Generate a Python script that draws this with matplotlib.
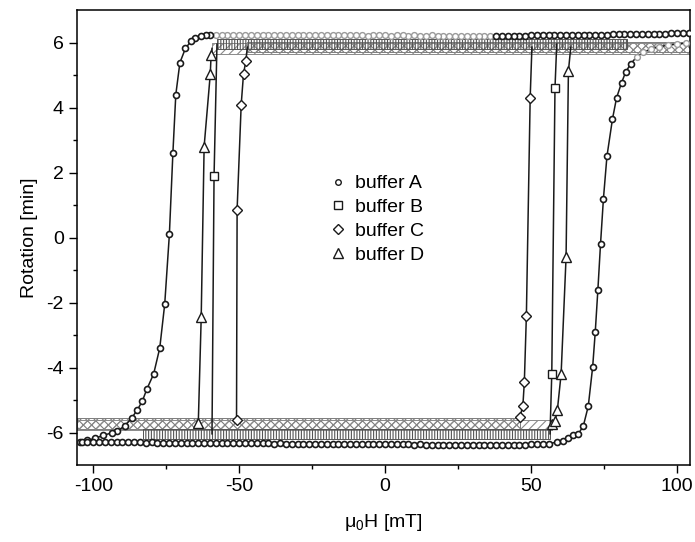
import matplotlib.pyplot as plt
from matplotlib.lines import Line2D

plt.rcParams['font.family'] = ['Liberation Sans', 'DejaVu Sans']
plt.rcParams['axes.unicode_minus'] = False
plt.rcParams['mathtext.fontset'] = 'custom'
plt.rcParams['mathtext.rm'] = 'Liberation Sans'
plt.rcParams['mathtext.it'] = 'Liberation Sans:italic'
plt.rcParams['hatch.linewidth'] = 0.8

#---------------------------------datos---------------------------------------------------------
# buffer A: rama descendente (de +H a -H)
a_top_x = [104, 102, 100, 98, 96, 94, 92, 90, 88, 86, 84, 82, 80, 78, 76, 74, 72,
           70, 68, 66, 64, 62, 60, 58, 56, 54, 52, 50, 48, 46, 44, 42, 40, 38]
a_top_y = [6.29, 6.29, 6.28, 6.28, 6.27, 6.27, 6.27, 6.26, 6.26, 6.26, 6.25, 6.25,
           6.25, 6.25, 6.24, 6.24, 6.24, 6.24, 6.23, 6.23, 6.23, 6.23, 6.23, 6.22,
           6.22, 6.22, 6.22, 6.22, 6.21, 6.21, 6.21, 6.21, 6.20, 6.20]
a_grey_x = [36, 34, 32, 30, 28, 26, 24, 22, 20, 18, 16, 14, 12, 10, 8, 6, 4, 2, 0,
            -2, -4, -6, -8, -10, -12, -14, -16, -18, -20, -22, -24, -26, -28, -30,
            -32, -34, -36, -38, -40, -42, -44, -46, -48, -50, -52, -54, -56, -58]
a_grey_y = [6.20, 6.20, 6.21, 6.20, 6.21, 6.21, 6.20, 6.21, 6.21, 6.21, 6.22, 6.21,
            6.21, 6.22, 6.21, 6.22, 6.22, 6.21, 6.22, 6.22, 6.22, 6.21, 6.22, 6.22,
            6.22, 6.22, 6.22, 6.23, 6.22, 6.22, 6.22, 6.23, 6.22, 6.22, 6.23, 6.22,
            6.22, 6.23, 6.22, 6.22, 6.22, 6.23, 6.22, 6.22, 6.22, 6.22, 6.22, 6.22]
a_fall_x = [-59.9, -61.3, -63.1, -65.1, -66.5, -68.4, -70.3, -71.7, -72.7, -73.9,
            -75.5, -77.2, -79.3, -81.6, -83.2, -85.0, -86.8, -89.2, -91.9, -93.6,
            -96.7, -99.3, -102.2, -104.6]
a_fall_y = [6.22, 6.22, 6.19, 6.15, 6.04, 5.82, 5.38, 4.40, 2.60, 0.10, -2.05, -3.40,
            -4.20, -4.66, -5.04, -5.32, -5.55, -5.80, -5.96, -6.01, -6.09, -6.18,
            -6.24, -6.28]
# buffer A: rama ascendente (de -H a +H)
a_bot_x = [-104, -102, -100, -98, -96, -94, -92, -90, -88, -86, -84, -82, -80, -78,
           -76, -74, -72, -70, -68, -66, -64, -62, -60, -58, -56, -54, -52, -50,
           -48, -46, -44, -42, -40, -38, -36, -34, -32, -30, -28, -26, -24, -22,
           -20, -18, -16, -14, -12, -10, -8, -6, -4, -2, 0, 2, 4, 6, 8, 10, 12, 14,
           16, 18, 20, 22, 24, 26, 28, 30, 32, 34, 36, 38, 40, 42, 44, 46, 48, 50,
           52, 54, 56]
a_bot_y = [-6.29, -6.29, -6.29, -6.29, -6.30, -6.29, -6.30, -6.30, -6.30, -6.30,
           -6.30, -6.31, -6.30, -6.31, -6.31, -6.31, -6.31, -6.31, -6.32, -6.31,
           -6.32, -6.32, -6.32, -6.32, -6.32, -6.33, -6.32, -6.33, -6.33, -6.33,
           -6.33, -6.33, -6.33, -6.34, -6.33, -6.34, -6.34, -6.34, -6.34, -6.34,
           -6.34, -6.35, -6.34, -6.35, -6.35, -6.35, -6.35, -6.35, -6.35, -6.36,
           -6.35, -6.36, -6.36, -6.36, -6.36, -6.36, -6.36, -6.37, -6.36, -6.37,
           -6.37, -6.37, -6.37, -6.37, -6.37, -6.37, -6.38, -6.37, -6.38, -6.38,
           -6.38, -6.38, -6.38, -6.38, -6.38, -6.37, -6.37, -6.36, -6.36, -6.35,
           -6.34]
a_rise_x = [58.8, 61.1, 62.8, 64.5, 66.2, 67.9, 69.6, 71.1, 72.0, 72.9, 73.8, 74.8,
            76.0, 77.9, 79.3, 81.0, 82.4, 84.2]
a_rise_y = [-6.30, -6.25, -6.16, -6.09, -6.04, -5.80, -5.19, -3.99, -2.90, -1.60,
            -0.20, 1.20, 2.50, 3.65, 4.30, 4.76, 5.09, 5.35]
a_end_x = [86.2, 88.5, 91.0, 94.0, 97.0, 100.0, 103.0]
a_end_y = [5.56, 5.70, 5.80, 5.87, 5.92, 5.95, 5.98]

# buffer B, C, D: mesetas (puntos muy densos) y puntos de la transicion
b_top_x = [-57.6, 83.0]
b_top_y = [5.95, 5.95]
b_bot_x = [-83.0, 56.5]
b_bot_y = [-6.04, -6.04]
b_down_x = [-57.6, -58.6, -59.3]
b_down_y = [5.95, 1.88, -6.04]
b_up_x = [56.5, 57.1, 58.2, 58.8]
b_up_y = [-6.04, -4.19, 4.60, 5.95]

c_top_x = [-47.2, 104.5]
c_top_y = [5.86, 5.86]
c_bot_x = [-105.5, 46.2]
c_bot_y = [-5.72, -5.72]
c_down_x = [-47.2, -47.7, -48.5, -49.3, -50.7, -50.9]
c_down_y = [5.86, 5.43, 5.04, 4.09, 0.86, -5.62]
c_up_x = [46.2, 47.2, 47.7, 48.4, 49.7, 50.3]
c_up_y = [-5.52, -5.17, -4.45, -2.40, 4.30, 5.86]

d_top_x = [-59.3, 104.5]
d_top_y = [5.82, 5.82]
d_bot_x = [-105.5, 57.1]
d_bot_y = [-5.76, -5.76]
d_down_x = [-59.3, -59.6, -59.9, -62.0, -63.0, -64.0]
d_down_y = [5.82, 5.63, 5.02, 2.80, -2.46, -5.72]
d_up_x = [57.1, 58.2, 59.0, 60.3, 62.0, 62.8, 63.6]
d_up_y = [-5.73, -5.65, -5.32, -4.20, -0.60, 5.12, 5.85]

etiquetas = ['buffer A', 'buffer B', 'buffer C', 'buffer D']

#---------------------------------grafico-------------------------------------
fig = plt.figure(figsize=(6.95, 5.42), dpi=100)
ax = fig.add_axes([0.111, 0.142, 0.882, 0.8395])

negro = '#1a1a1a'
gris = '#9a9a9a'


def meseta(x, y, hatch, color, alto=0.16):
    # las mesetas tienen tantos puntos que los simbolos se ven como una banda rayada
    ax.fill_between(x, [v - alto for v in y], [v + alto for v in y], facecolor='none',
                    edgecolor=color, hatch=hatch, linewidth=0.7, zorder=2)


meseta(c_top_x, c_top_y, 'xxxx', '#7d7d7d')
meseta(c_bot_x, c_bot_y, 'xxxx', '#7d7d7d')
meseta(d_top_x, d_top_y, '////', '#8a8a8a')
meseta(d_bot_x, d_bot_y, '////', '#8a8a8a')
meseta(b_top_x, b_top_y, '||||||', '#555555', 0.15)
meseta(b_bot_x, b_bot_y, '||||||', '#555555', 0.15)

# lineas de las transiciones
for xs, ys in [(b_down_x, b_down_y), (b_up_x, b_up_y), (c_down_x, c_down_y),
               (c_up_x, c_up_y), (d_down_x, d_down_y), (d_up_x, d_up_y)]:
    ax.plot(xs, ys, color=negro, lw=1.1, zorder=3)

ax.plot(a_top_x + a_grey_x + a_fall_x, a_top_y + a_grey_y + a_fall_y, color=negro, lw=1.1, zorder=3)
ax.plot(a_bot_x + a_rise_x + a_end_x, a_bot_y + a_rise_y + a_end_y, color=negro, lw=1.1, zorder=3)

# simbolos
estilo = dict(ls='none', mfc='white', zorder=4)
ax.plot(b_down_x[1:-1] + b_up_x[1:-1], b_down_y[1:-1] + b_up_y[1:-1], marker='s', ms=5.5, mec=negro, mew=1.0, **estilo)
ax.plot(c_down_x[1:] + c_up_x[:-1], c_down_y[1:] + c_up_y[:-1], marker='D', ms=5.5, mec=negro, mew=1.0, **estilo)
ax.plot(d_down_x[1:] + d_up_x[:-1], d_down_y[1:] + d_up_y[:-1], marker='^', ms=6.5, mec=negro, mew=1.0, **estilo)

ax.plot(a_grey_x + a_end_x, a_grey_y + a_end_y, marker='o', ms=4.2, mec=gris, mew=1.0, **estilo)
ax.plot(a_top_x + a_fall_x + a_bot_x + a_rise_x, a_top_y + a_fall_y + a_bot_y + a_rise_y,
        marker='o', ms=4.3, mec=negro, mew=1.2, **estilo)

# leyenda
handles = [Line2D([], [], ls='none', marker=m, ms=s, mfc='white', mec=negro, mew=1.0)
           for m, s in zip(['o', 's', 'D', '^'], [4, 5.5, 5.5, 6.5])]
ax.legend(handles, etiquetas, loc='upper left', bbox_to_anchor=(0.384, 0.668), frameon=False,
          fontsize=14, handletextpad=0.3, labelspacing=0.32, handlelength=1.2, borderpad=0.2)

# ejes
ax.set_xlim(-105.5, 104.5)
ax.set_ylim(-7, 7)
ax.set_xticks([-100, -50, 0, 50, 100])
ax.set_xticks([-75, -25, 25, 75], minor=True)
ax.set_yticks([-6, -4, -2, 0, 2, 4, 6])
ax.set_yticks([-5, -3, -1, 1, 3, 5], minor=True)
ax.tick_params(which='both', direction='out', width=1, labelsize=14, top=False, right=False)
ax.tick_params(which='major', length=5.5, pad=4)
ax.tick_params(which='minor', length=3)
for s in ax.spines.values():
    s.set_linewidth(1.1)

ax.set_xlabel(r'μ$_0$H [mT]', fontsize=14, labelpad=12)
ax.set_ylabel('Rotation [min]', fontsize=14, labelpad=6)

fig.savefig('out.png', dpi=100)
